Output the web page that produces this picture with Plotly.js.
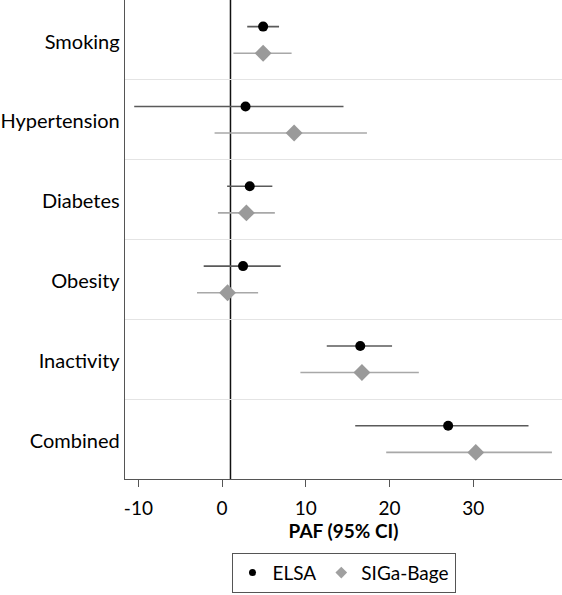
<!DOCTYPE html>
<html>
<head>
<meta charset="utf-8">
<script src="https://cdn.plot.ly/plotly-3.0.1.min.js"></script>
<style>html,body{margin:0;padding:0;background:#fff;}#chart{width:562px;height:595px;}</style>
</head>
<body>
<div id="chart"></div>
<script>
const categories = ["Smoking", "Hypertension", "Diabetes", "Obesity", "Inactivity", "Combined"];
const elsaPAF  = [4.9, 2.8, 3.3, 2.5, 16.5, 27.0];
const elsaLow  = [3.0, -10.5, 0.6, -2.2, 12.5, 15.9];
const elsaHigh = [6.8, 14.5, 6.0, 7.0, 20.3, 36.6];
const sigaPAF  = [4.9, 8.6, 2.9, 0.65, 16.7, 30.3];
const sigaLow  = [1.35, -0.9, -0.5, -3.0, 9.35, 19.6];
const sigaHigh = [8.3, 17.3, 6.3, 4.3, 23.5, 39.4];
const xTicks = [-10, 0, 10, 20, 30];
const refLine = 1;

const n = categories.length;
const idx = categories.map((c, i) => i);
const font = "Lato, 'Liberation Sans', sans-serif";

const traces = [
  {
    name: "ELSA", type: "scatter", mode: "markers", showlegend: false,
    x: elsaPAF, y: idx.map(i => i + 1/3),
    marker: {symbol: "circle", color: "#000", size: 10},
    error_x: {type: "data", symmetric: false,
      array: elsaPAF.map((v, i) => elsaHigh[i] - v),
      arrayminus: elsaPAF.map((v, i) => v - elsaLow[i]),
      color: "#5a5a5a", thickness: 1.6, width: 0}
  },
  {
    name: "SIGa-Bage", type: "scatter", mode: "markers", showlegend: false,
    x: sigaPAF, y: idx.map(i => i + 2/3),
    marker: {symbol: "diamond", color: "#9a9a9a", size: 13},
    error_x: {type: "data", symmetric: false,
      array: sigaPAF.map((v, i) => sigaHigh[i] - v),
      arrayminus: sigaPAF.map((v, i) => v - sigaLow[i]),
      color: "#a8a8a8", thickness: 1.6, width: 0}
  },
  {
    name: "ELSA", type: "scatter", mode: "markers", x: [null], y: [null],
    marker: {symbol: "circle", color: "#000", size: 7}
  },
  {
    name: "SIGa-Bage", type: "scatter", mode: "markers", x: [null], y: [null],
    marker: {symbol: "diamond", color: "#a0a0a0", size: 9}
  }
];

const layout = {
  width: 562, height: 595,
  margin: {l: 125, r: 0, t: 0, b: 116},
  paper_bgcolor: "#fff", plot_bgcolor: "#fff",
  font: {family: font, color: "#000", size: 20},
  showlegend: true,
  legend: {
    orientation: "h", x: 0.5, xanchor: "center", y: -0.154, yanchor: "top",
    bordercolor: "#555", borderwidth: 1, font: {size: 19},
    itemwidth: 30, itemsizing: "trace"
  },
  xaxis: {
    range: [-11.6, 40.6],
    tickvals: xTicks, ticktext: xTicks.map(String),
    ticks: "outside", ticklen: 7, tickcolor: "#555",
    ticklabelstandoff: 5,
    showgrid: false, zeroline: false,
    showline: true, linecolor: "#555", linewidth: 1,
    tickfont: {size: 19},
    title: {text: "<b>PAF (95% CI)</b>", font: {size: 19}, standoff: 2}
  },
  yaxis: {
    range: [n, 0],
    tickvals: idx.map(i => i + 0.52), ticktext: categories,
    ticks: "", showgrid: false, zeroline: false,
    showline: true, linecolor: "#555", linewidth: 1.3,
    tickfont: {size: 20},
    minor: {tick0: 0, dtick: 1, showgrid: true, gridcolor: "#e4e4e4", gridwidth: 1, ticks: ""}
  },
  shapes: [{
    type: "line", xref: "x", yref: "paper", x0: refLine, x1: refLine, y0: 0, y1: 1,
    line: {color: "#111", width: 1.5}, layer: "below"
  }]
};

Plotly.newPlot("chart", traces, layout, {displayModeBar: false, staticPlot: true});
</script>
</body>
</html>
